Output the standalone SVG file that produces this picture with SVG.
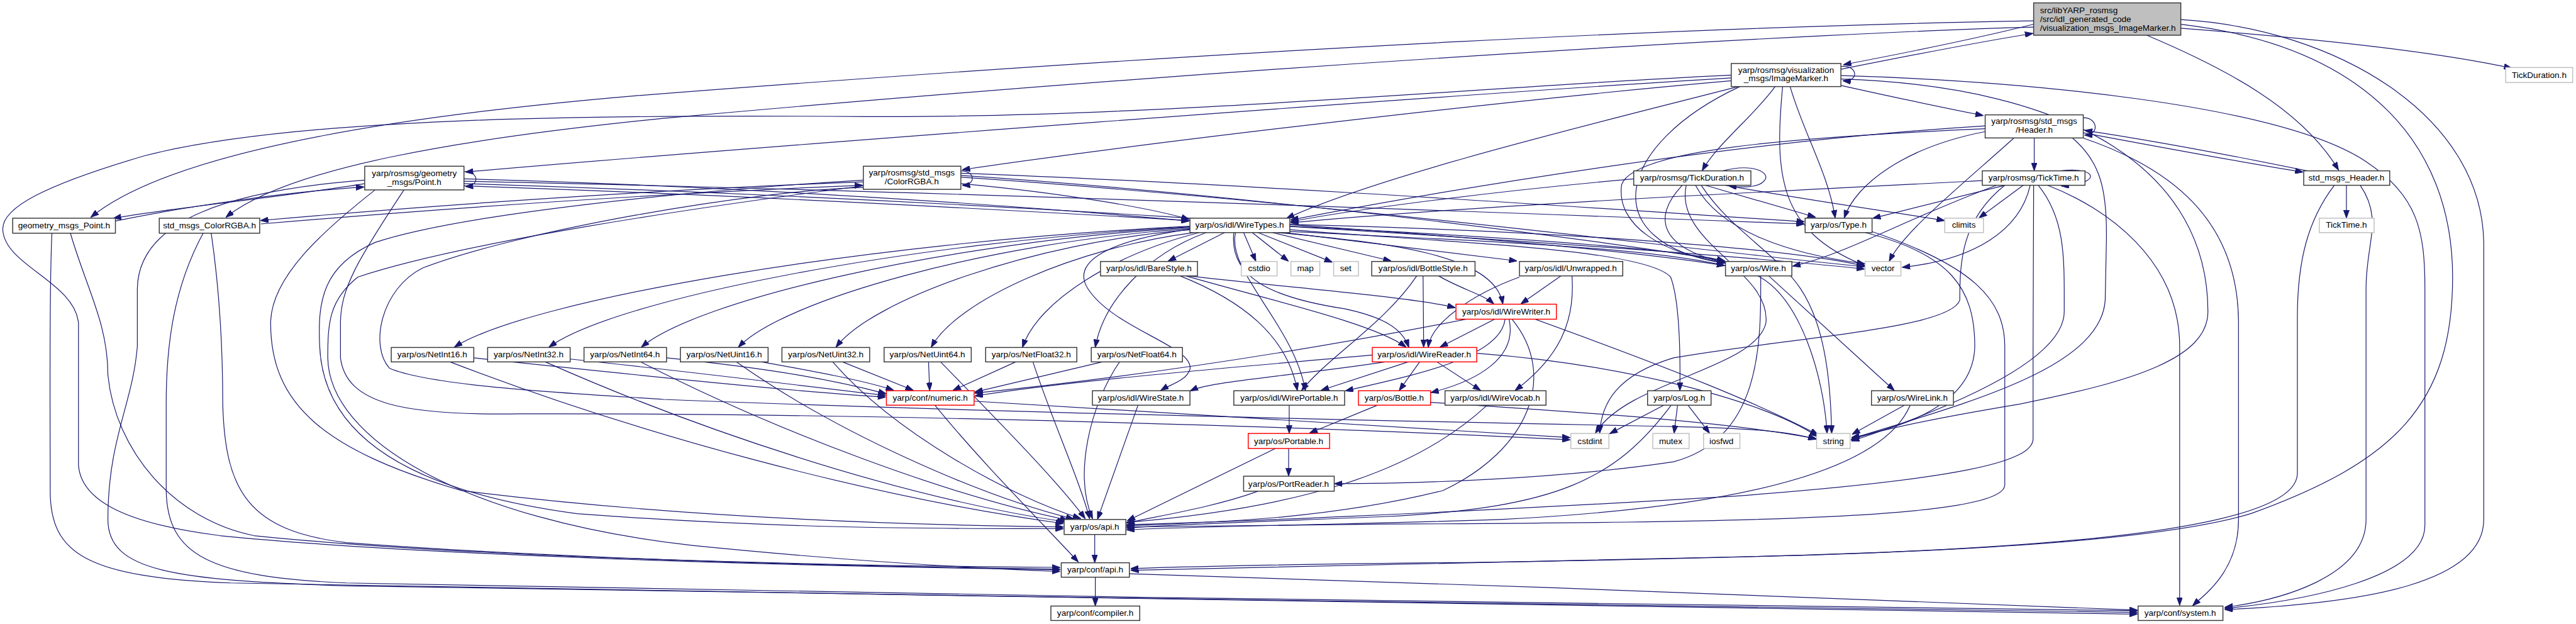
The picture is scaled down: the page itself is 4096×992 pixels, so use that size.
<svg xmlns="http://www.w3.org/2000/svg" width="4096" height="992" viewBox="0 0 4096 992">
<style>
.n rect{fill:#fff;stroke:#383838;stroke-width:1.6}
.n.r rect{stroke:#ff0000}
.n.g rect{stroke:#bfbfbf}
.n.m rect{fill:#bfbfbf;stroke:#383838}
.n text{font-family:"Liberation Sans",Arial,sans-serif;font-size:14.8px;text-anchor:middle;fill:#000}
.n text.l{text-anchor:start}
#edges path{fill:none;stroke:#191970;stroke-width:1.3;marker-end:url(#a)}
</style>
<defs>
<marker id="a" markerWidth="14" markerHeight="10" refX="13" refY="5" orient="auto" markerUnits="userSpaceOnUse"><path d="M0,0 L14,5 L0,10 z" fill="#191970" stroke="#191970"/></marker>
</defs>
<rect width="4096" height="992" fill="#fff"/>
<g transform="scale(0.9176)">
<g id="edges">
<!-- main -->
<path d="M3524,42 C3420,68 3300,92 3195,112"/>
<path d="M3190,120 C3300,98 3420,74 3522,58"/>
<path d="M3524,36 C3000,45 2200,80 1100,166 C700,200 300,260 158,376"/>
<path d="M3524,47 C3200,55 2200,110 1150,205 C800,240 500,290 392,376"/>
<path d="M3779,49 C3950,62 4200,85 4352,118"/>
<path d="M3720,61 C3860,120 3990,190 4052,294"/>
<path d="M3779,34 C4050,50 4300,200 4304,420 L4304,900 C4304,1010 4100,1045 3856,1056"/>
<path d="M3779,42 C4100,80 4250,250 4250,480 C4250,700 4150,800 3900,890 C3700,950 3200,965 2500,975 C2200,978 2050,982 1960,985"/>
<!-- ImageMarker -->
<path d="M3190,115 C3220,112 3222,142 3194,140"/>
<path d="M3000,135 C2500,165 1300,255 807,298"/>
<path d="M3000,140 C2600,175 2000,245 1668,294"/>
<path d="M3000,130 C2600,148 2000,205 1500,202 C1000,198 500,205 250,270 C80,320 0,360 5,400 C10,460 130,490 136,560 L136,806 C140,860 200,905 381,928 C700,960 1300,980 1836,987"/>
<path d="M3190,148 C3280,168 3360,185 3436,200"/>
<path d="M3076,150 C3040,200 2975,250 2950,295"/>
<path d="M3102,150 C3125,230 3168,300 3180,377"/>
<path d="M3012,150 C2800,205 2400,300 2230,378"/>
<path d="M3015,150 C2800,250 2760,420 2988,456"/>
<path d="M3089,150 C3075,300 3080,400 3231,460"/>
<path d="M3190,137 C3600,150 3826,300 3826,540 C3826,620 3700,660 3500,700 C3320,730 3240,750 3208,762"/>
<path d="M3190,131 C3500,140 3950,180 4100,280 C4190,340 4202,400 4202,500 L4202,910 C4202,1000 4000,1040 3856,1054"/>
<!-- Header -->
<path d="M3610,204 C3636,204 3638,234 3613,234"/>
<path d="M3525,239 L3525,295"/>
<path d="M3610,230 C3760,258 3900,284 3990,298"/>
<path d="M3998,296 C3900,276 3760,248 3613,226"/>
<path d="M3440,228 C3300,255 3215,320 3196,377"/>
<path d="M3490,239 C3400,320 3300,400 3274,452"/>
<path d="M3440,218 C3000,245 2500,330 2237,381"/>
<path d="M3440,223 C3100,238 2830,260 2810,320 C2800,390 2880,440 2988,454"/>
<path d="M3591,239 C3640,280 3652,330 3650,420 L3648,520 C3640,640 3400,700 3209,760"/>
<path d="M3609,239 C3760,290 3879,380 3879,560 L3879,900 C3879,990 3820,1030 3800,1049"/>
<!-- std_msgs_Header.h -->
<path d="M4066,321 L4066,377"/>
<path d="M4090,321 C4130,380 4100,420 4100,500 L4100,900 C4100,1000 3950,1040 3856,1052"/>
<path d="M4045,321 C4000,380 3981,450 3981,550 L3981,820 C3981,900 3700,950 3000,965 C2500,975 2100,982 1960,988"/>
<!-- rosmsg TickTime -->
<path d="M3570,296 C3634,288 3645,318 3572,322"/>
<path d="M3506,321 L3430,377"/>
<path d="M3474,321 L3246,378"/>
<path d="M3518,321 C3500,400 3420,450 3297,463"/>
<path d="M3435,313 C3000,335 2500,360 2237,386"/>
<path d="M3460,321 C3300,380 3200,440 3107,461"/>
<path d="M3532,321 C3580,380 3577,450 3577,540 C3577,620 3400,700 3209,764"/>
<path d="M3474,321 C3400,380 3396,450 3396,520 C3380,570 3100,585 2900,620 C2800,650 2775,700 2772,750"/>
<path d="M3548,321 C3650,360 3777,450 3777,600 L3777,1048"/>
<path d="M3524,321 C3524,400 3523,500 3523,600 L3523,760 C3523,800 3400,830 3000,860 C2500,890 2100,905 1953,909"/>
<!-- rosmsg TickDuration -->
<path d="M2985,296 C3040,282 3068,300 3058,312 C3048,326 3020,325 2996,322"/>
<path d="M2831,310 C2600,330 2350,362 2237,384"/>
<path d="M2955,321 L3145,376"/>
<path d="M2915,321 C2860,380 2880,430 2989,455"/>
<path d="M2938,321 C2980,400 3100,440 3231,457"/>
<path d="M2990,321 C3150,350 3300,370 3369,382"/>
<path d="M2948,321 C3000,400 3080,440 3120,500 C3160,560 3172,650 3174,750"/>
<path d="M2922,321 C2900,420 3070,470 3060,560 C3040,640 2820,660 2765,750"/>
<!-- geometry Point -->
<path d="M804,297 C830,297 832,322 807,323"/>
<path d="M632,318 C500,340 300,360 197,378"/>
<path d="M200,383 C320,358 500,332 630,324"/>
<path d="M804,310 C1200,320 1700,350 2060,383"/>
<path d="M804,314 C1500,328 2600,368 3126,388"/>
<path d="M804,318 C1500,340 2600,400 2988,460"/>
<path d="M804,322 C1500,345 2800,420 3230,466"/>
<path d="M632,312 C400,330 240,380 238,500 L238,600 C230,700 187,760 187,900 C187,990 300,1005 600,1015 C1500,1030 3000,1052 3703,1061"/>
<path d="M650,329 C560,400 469,480 469,560 C469,700 560,780 800,850 C1200,900 1600,910 1842,913"/>
<path d="M700,329 C620,450 590,500 590,560 L590,620 C600,700 700,720 900,717 C1500,715 2300,740 2720,762"/>
<!-- ColorRGBA -->
<path d="M1665,296 C1690,296 1692,320 1668,321"/>
<path d="M1496,315 C1100,330 700,360 452,382"/>
<path d="M452,388 C700,367 1100,337 1494,321"/>
<path d="M1665,318 C1850,335 2000,362 2060,380"/>
<path d="M1665,300 C2200,320 2900,370 3126,384"/>
<path d="M1665,304 C2200,340 2800,420 2988,452"/>
<path d="M1665,307 C2300,350 2900,430 3230,462"/>
<path d="M1496,325 C1300,330 900,400 733,464 C660,500 640,600 675,638 C750,670 1000,682 1150,692 C1800,718 2600,733 2900,739 C3050,742 3110,750 3146,761"/>
<path d="M1496,312 C1200,330 800,370 650,420 C560,460 550,520 554,600 C560,750 700,850 1000,890 C1400,920 1700,915 1842,916"/>
<path d="M1496,322 C1200,360 800,420 620,480 C570,520 568,560 568,620 C570,760 800,900 1200,945 C1500,975 1700,985 1836,990"/>
<!-- legacy headers -->
<path d="M90,404 C85,500 87,700 87,850 C87,960 150,1000 400,1010 C1500,1030 3000,1054 3703,1064"/>
<path d="M122,404 C150,500 187,560 187,650 C200,780 300,900 440,928 C800,965 1400,980 1836,983"/>
<path d="M352,404 C300,500 288,600 288,700 L288,850 C290,960 360,1000 600,1010 C1500,1030 3000,1050 3703,1058"/>
<path d="M366,404 C380,500 386,600 386,700 C390,850 430,920 600,940 C1000,970 1500,982 1836,986"/>
<!-- WireTypes -->
<path d="M2122,403 L2025,452"/>
<path d="M2155,403 L2176,452"/>
<path d="M2170,403 L2232,452"/>
<path d="M2180,403 L2308,454"/>
<path d="M2205,403 L2410,452"/>
<path d="M2228,403 L2628,452"/>
<path d="M2214,403 C2400,420 2590,440 2604,526"/>
<path d="M2138,403 C2130,480 2200,515 2330,535 C2400,550 2430,570 2441,601"/>
<path d="M2141,403 C2125,470 2240,560 2262,676"/>
<path d="M2062,397 C1900,420 1860,460 1885,500 C1930,570 2070,600 2062,640 C2055,660 2030,665 2012,676"/>
<path d="M2062,392 C1490,420 916,520 788,601"/>
<path d="M2062,393 C1564,420 1063,520 952,601"/>
<path d="M2062,394 C1637,420 1208,520 1112,601"/>
<path d="M2062,396 C1712,420 1358,520 1280,601"/>
<path d="M2064,398 C1788,420 1511,520 1449,601"/>
<path d="M2068,403 C1862,430 1659,520 1614,601"/>
<path d="M2078,403 C1933,440 1800,520 1772,601"/>
<path d="M2090,403 C1989,440 1913,520 1898,601"/>
<path d="M2235,398 C2500,420 2850,430 2895,480 C2910,520 2912,600 2911,676"/>
<path d="M2235,392 C2600,410 2900,430 2988,452"/>
<path d="M2235,389 C2700,400 3100,430 3231,461"/>
<path d="M2235,401 C2600,420 2950,430 3050,480 C3120,520 3160,650 3166,750"/>
<!-- idl styles -->
<path d="M2060,478 C2250,500 2450,515 2521,533"/>
<path d="M2055,478 C2200,520 2380,560 2436,601"/>
<path d="M2045,478 C2150,520 2230,580 2248,676"/>
<path d="M2493,478 C2530,500 2570,510 2588,526"/>
<path d="M2466,478 L2467,601"/>
<path d="M2455,478 C2400,560 2300,620 2256,676"/>
<path d="M2705,478 L2636,526"/>
<path d="M2633,480 C2550,510 2480,560 2475,601"/>
<path d="M2724,478 C2730,560 2700,620 2626,676"/>
<!-- WireWriter -->
<path d="M2590,553 L2496,601"/>
<path d="M2608,553 C2600,620 2450,650 2332,677"/>
<path d="M2615,553 C2630,620 2560,660 2480,680"/>
<path d="M2541,553 C2200,620 1900,660 1690,681"/>
<path d="M2660,553 C2900,640 3050,700 3150,753"/>
<path d="M2620,553 C2700,650 2650,780 2500,850 C2300,900 2100,905 1953,911"/>
<!-- WireReader -->
<path d="M2440,627 L2290,676"/>
<path d="M2460,627 L2425,676"/>
<path d="M2490,627 L2565,676"/>
<path d="M2400,627 C2250,650 2100,660 2063,677"/>
<path d="M2378,615 C2100,640 1850,660 1690,686"/>
<path d="M2559,612 C2800,630 3050,690 3149,756"/>
<!-- lower yarp/os -->
<path d="M2234,702 L2234,750"/>
<path d="M2387,702 L2270,750"/>
<path d="M2479,697 C2800,718 3000,732 3147,760"/>
<path d="M2577,702 C2450,820 2250,880 1953,905"/>
<path d="M1972,702 L1902,899"/>
<path d="M2883,702 L2790,751"/>
<path d="M2907,702 L2901,750"/>
<path d="M2925,702 L2962,750"/>
<path d="M2896,702 C2800,830 2700,880 2400,895 C2150,905 2000,910 1953,915"/>
<path d="M3300,702 L3210,752"/>
<path d="M3310,702 C3260,820 3000,880 2600,900 C2300,910 2050,912 1953,918"/>
<path d="M3065,478 L3282,676"/>
<path d="M3051,478 C3052,600 3050,760 2900,800 C2700,830 2450,838 2313,838"/>
<path d="M2233,777 L2233,824"/>
<path d="M2210,777 L1954,902"/>
<path d="M2180,851 C2100,880 2000,895 1953,906"/>
<path d="M1897,926 L1897,974"/>
<path d="M1898,1000 L1898,1049"/>
<path d="M1957,994 C2500,1010 3300,1040 3703,1057"/>
<path d="M1620,702 C1700,800 1800,900 1868,973"/>
<path d="M1688,695 C2100,720 2500,745 2720,758"/>
<path d="M3232,403 C3380,440 3422,500 3422,600 C3420,700 3300,740 3209,758"/>
<path d="M3240,400 C3420,460 3474,520 3474,600 L3474,840 C3474,900 3000,905 2400,908 C2100,910 2000,912 1953,913"/>
<!-- Net* -->
<path d="M820,620 C1200,660 1400,680 1534,688"/>
<path d="M780,627 C1100,750 1500,860 1842,907"/>
<path d="M988,622 C1250,650 1400,670 1534,685"/>
<path d="M945,627 C1200,740 1550,860 1845,904"/>
<path d="M1155,620 C1350,640 1450,660 1535,682"/>
<path d="M1110,627 C1350,750 1650,860 1850,901"/>
<path d="M1320,627 C1420,645 1500,660 1548,676"/>
<path d="M1276,627 C1450,750 1700,860 1860,899"/>
<path d="M1460,627 L1582,676"/>
<path d="M1443,627 C1550,750 1750,860 1872,898"/>
<path d="M1609,627 L1611,676"/>
<path d="M1630,627 C1720,720 1830,830 1880,898"/>
<path d="M1760,627 L1652,676"/>
<path d="M1790,627 C1820,720 1870,830 1888,898"/>
<path d="M1910,627 L1690,679"/>
<path d="M1940,627 C1890,700 1860,820 1893,898"/>
</g>
<g id="n_main" class="n m"><rect x="3524" y="5" width="255" height="56"/><text class="l" x="3535" y="23">src/libYARP_rosmsg</text><text class="l" x="3535" y="38">/src/idl_generated_code</text><text class="l" x="3535" y="53">/visualization_msgs_ImageMarker.h</text></g>
<g id="n_im" class="n"><rect x="3000" y="110" width="190" height="40"/><text x="3095" y="126">yarp/rosmsg/visualization</text><text x="3095" y="141">_msgs/ImageMarker.h</text></g>
<g id="n_td" class="n g"><rect x="4342" y="117" width="116" height="26"/><text x="4400" y="135">TickDuration.h</text></g>
<g id="n_hdr" class="n"><rect x="3440" y="199" width="170" height="40"/><text x="3525" y="215">yarp/rosmsg/std_msgs</text><text x="3525" y="230">/Header.h</text></g>
<g id="n_gp" class="n"><rect x="632" y="288" width="172" height="41"/><text x="718" y="305">yarp/rosmsg/geometry</text><text x="718" y="320">_msgs/Point.h</text></g>
<g id="n_cr" class="n"><rect x="1496" y="288" width="169" height="40"/><text x="1580" y="304">yarp/rosmsg/std_msgs</text><text x="1580" y="319">/ColorRGBA.h</text></g>
<g id="n_rtd" class="n"><rect x="2831" y="296" width="203" height="25"/><text x="2932" y="313">yarp/rosmsg/TickDuration.h</text></g>
<g id="n_rtt" class="n"><rect x="3435" y="296" width="178" height="25"/><text x="3524" y="313">yarp/rosmsg/TickTime.h</text></g>
<g id="n_sh" class="n"><rect x="3992" y="296" width="149" height="25"/><text x="4066" y="313">std_msgs_Header.h</text></g>
<g id="n_gmp" class="n"><rect x="22" y="378" width="178" height="26"/><text x="111" y="396">geometry_msgs_Point.h</text></g>
<g id="n_scr" class="n"><rect x="276" y="378" width="174" height="26"/><text x="363" y="396">std_msgs_ColorRGBA.h</text></g>
<g id="n_wt" class="n"><rect x="2062" y="378" width="173" height="25"/><text x="2148" y="395">yarp/os/idl/WireTypes.h</text></g>
<g id="n_ty" class="n"><rect x="3128" y="378" width="116" height="25"/><text x="3186" y="395">yarp/os/Type.h</text></g>
<g id="n_cl" class="n g"><rect x="3370" y="378" width="67" height="25"/><text x="3403" y="395">climits</text></g>
<g id="n_tt" class="n g"><rect x="4019" y="378" width="95" height="25"/><text x="4066" y="395">TickTime.h</text></g>
<g id="n_bs" class="n"><rect x="1907" y="453" width="168" height="25"/><text x="1991" y="470">yarp/os/idl/BareStyle.h</text></g>
<g id="n_cstdio" class="n g"><rect x="2151" y="453" width="62" height="25"/><text x="2182" y="470">cstdio</text></g>
<g id="n_map" class="n g"><rect x="2237" y="453" width="50" height="25"/><text x="2262" y="470">map</text></g>
<g id="n_set" class="n g"><rect x="2311" y="453" width="43" height="25"/><text x="2332" y="470">set</text></g>
<g id="n_bts" class="n"><rect x="2377" y="453" width="179" height="25"/><text x="2466" y="470">yarp/os/idl/BottleStyle.h</text></g>
<g id="n_uw" class="n"><rect x="2633" y="453" width="179" height="25"/><text x="2722" y="470">yarp/os/idl/Unwrapped.h</text></g>
<g id="n_wire" class="n"><rect x="2990" y="453" width="115" height="25"/><text x="3047" y="470">yarp/os/Wire.h</text></g>
<g id="n_vec" class="n g"><rect x="3232" y="453" width="62" height="25"/><text x="3263" y="470">vector</text></g>
<g id="n_ww" class="n r"><rect x="2523" y="527" width="174" height="26"/><text x="2610" y="545">yarp/os/idl/WireWriter.h</text></g>
<g id="n_ni16" class="n"><rect x="678" y="602" width="143" height="25"/><text x="749" y="619">yarp/os/NetInt16.h</text></g>
<g id="n_ni32" class="n"><rect x="845" y="602" width="143" height="25"/><text x="916" y="619">yarp/os/NetInt32.h</text></g>
<g id="n_ni64" class="n"><rect x="1012" y="602" width="143" height="25"/><text x="1083" y="619">yarp/os/NetInt64.h</text></g>
<g id="n_nu16" class="n"><rect x="1179" y="602" width="152" height="25"/><text x="1255" y="619">yarp/os/NetUint16.h</text></g>
<g id="n_nu32" class="n"><rect x="1355" y="602" width="152" height="25"/><text x="1431" y="619">yarp/os/NetUint32.h</text></g>
<g id="n_nu64" class="n"><rect x="1532" y="602" width="151" height="25"/><text x="1607" y="619">yarp/os/NetUint64.h</text></g>
<g id="n_nf32" class="n"><rect x="1708" y="602" width="158" height="25"/><text x="1787" y="619">yarp/os/NetFloat32.h</text></g>
<g id="n_nf64" class="n"><rect x="1891" y="602" width="158" height="25"/><text x="1970" y="619">yarp/os/NetFloat64.h</text></g>
<g id="n_wr" class="n r"><rect x="2378" y="602" width="181" height="25"/><text x="2468" y="619">yarp/os/idl/WireReader.h</text></g>
<g id="n_num" class="n r"><rect x="1536" y="677" width="152" height="25"/><text x="1612" y="694">yarp/conf/numeric.h</text></g>
<g id="n_ws" class="n"><rect x="1893" y="677" width="169" height="25"/><text x="1977" y="694">yarp/os/idl/WireState.h</text></g>
<g id="n_wp" class="n"><rect x="2138" y="677" width="192" height="25"/><text x="2234" y="694">yarp/os/idl/WirePortable.h</text></g>
<g id="n_bot" class="n r"><rect x="2354" y="677" width="125" height="25"/><text x="2416" y="694">yarp/os/Bottle.h</text></g>
<g id="n_wv" class="n"><rect x="2504" y="677" width="175" height="25"/><text x="2591" y="694">yarp/os/idl/WireVocab.h</text></g>
<g id="n_log" class="n"><rect x="2855" y="677" width="110" height="25"/><text x="2910" y="694">yarp/os/Log.h</text></g>
<g id="n_wl" class="n"><rect x="3243" y="677" width="142" height="25"/><text x="3314" y="694">yarp/os/WireLink.h</text></g>
<g id="n_port" class="n r"><rect x="2163" y="751" width="141" height="26"/><text x="2233" y="769">yarp/os/Portable.h</text></g>
<g id="n_cstdint" class="n g"><rect x="2722" y="751" width="66" height="26"/><text x="2755" y="769">cstdint</text></g>
<g id="n_mutex" class="n g"><rect x="2864" y="751" width="63" height="26"/><text x="2895" y="769">mutex</text></g>
<g id="n_iosfwd" class="n g"><rect x="2952" y="751" width="63" height="26"/><text x="2983" y="769">iosfwd</text></g>
<g id="n_string" class="n g"><rect x="3148" y="751" width="58" height="26"/><text x="3177" y="769">string</text></g>
<g id="n_pr" class="n"><rect x="2155" y="825" width="157" height="26"/><text x="2233" y="843">yarp/os/PortReader.h</text></g>
<g id="n_osapi" class="n"><rect x="1844" y="900" width="107" height="26"/><text x="1897" y="918">yarp/os/api.h</text></g>
<g id="n_capi" class="n"><rect x="1839" y="975" width="118" height="25"/><text x="1898" y="992">yarp/conf/api.h</text></g>
<g id="n_comp" class="n"><rect x="1821" y="1050" width="154" height="25"/><text x="1898" y="1067">yarp/conf/compiler.h</text></g>
<g id="n_sys" class="n"><rect x="3705" y="1050" width="147" height="25"/><text x="3778" y="1067">yarp/conf/system.h</text></g>
</g>
</svg>
